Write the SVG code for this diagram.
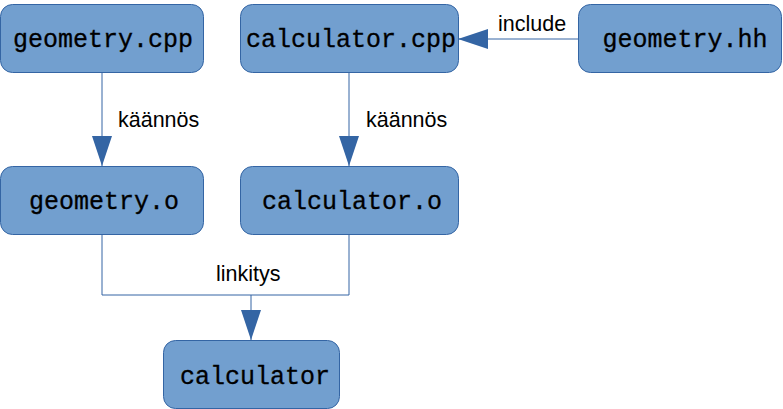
<svg xmlns="http://www.w3.org/2000/svg" width="783" height="409" viewBox="0 0 783 409">
<style>
.node rect{fill:#729fcf;stroke:#3465a4;stroke-width:1}
.node text{font-family:"Liberation Mono","Courier New",monospace;font-size:25px;fill:#000;stroke:#000;stroke-width:0.3;text-anchor:middle}
.conn path{fill:none;stroke:#3465a4;stroke-width:1}
.lbl{font-family:"Liberation Sans",Arial,sans-serif;font-size:21.5px;fill:#000}
</style>
<defs>
<marker id="arr" viewBox="0 0 30 20" refX="30" refY="10" markerWidth="30" markerHeight="20" markerUnits="userSpaceOnUse" orient="auto">
<path d="M0,0 L30,10 L0,20 Z" fill="#3465a4"/>
</marker>
</defs>
<g class="conn">
<path d="M102,72 V166" marker-end="url(#arr)"/>
<path d="M349,72 V166" marker-end="url(#arr)"/>
<path d="M578,39 H458" marker-end="url(#arr)"/>
<path d="M102,234 V295 H349 V234"/>
<path d="M251,295 V340" marker-end="url(#arr)"/>
<text class="lbl" x="118" y="127">käännös</text>
<text class="lbl" x="366" y="127">käännös</text>
<text class="lbl" x="498" y="31">include</text>
<text class="lbl" x="216" y="281">linkitys</text>
</g>
<g id="geometry_cpp" class="node"><rect x="0.5" y="4.5" width="203" height="68" rx="12"/><text x="103" y="47">geometry.cpp</text></g>
<g id="calculator_cpp" class="node"><rect x="240.5" y="4.5" width="218" height="68" rx="12"/><text x="351" y="47">calculator.cpp</text></g>
<g id="geometry_hh" class="node"><rect x="578.5" y="4.5" width="203" height="68" rx="12"/><text x="685" y="47">geometry.hh</text></g>
<g id="geometry_o" class="node"><rect x="0.5" y="166.5" width="203" height="68" rx="12"/><text x="104" y="209">geometry.o</text></g>
<g id="calculator_o" class="node"><rect x="240.5" y="166.5" width="218" height="68" rx="12"/><text x="352" y="209">calculator.o</text></g>
<g id="calculator" class="node"><rect x="163.5" y="340.5" width="176" height="68" rx="12"/><text x="255" y="384">calculator</text></g>
</svg>
